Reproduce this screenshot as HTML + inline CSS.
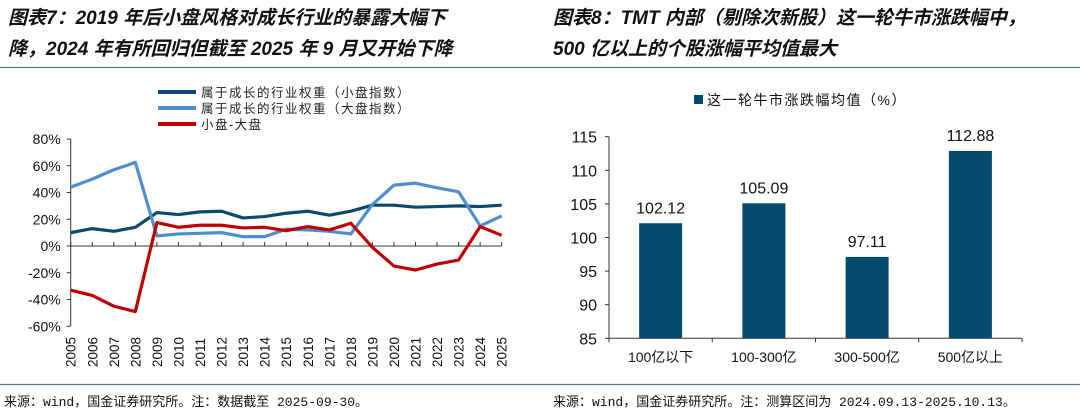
<!DOCTYPE html>
<html><head><meta charset="utf-8"><style>
body{margin:0;background:#fff;}
svg{display:block;font-family:"Liberation Sans","Noto Sans CJK SC",sans-serif;}
.t{font-family:"Liberation Sans","Noto Sans CJK SC",sans-serif;font-weight:bold;font-style:italic;font-size:19px;fill:#111;}
.f{font-family:"Liberation Mono","Noto Sans CJK SC",monospace;font-size:13px;fill:#111;}
</style></head><body>
<svg id="s" width="1080" height="415" viewBox="0 0 1080 415">
<text class="t" x="8" y="24">图表7：2019 年后小盘风格对成长行业的暴露大幅下</text>
<text class="t" x="8" y="55">降，2024 年有所回归但截至 2025 年 9 月又开始下降</text>
<text class="t" x="553" y="24">图表8：TMT 内部（剔除次新股）这一轮牛市涨跌幅中，</text>
<text class="t" x="553" y="55">500 亿以上的个股涨幅平均值最大</text>
<line x1="0" y1="67.5" x2="1080" y2="67.5" stroke="#5f7480" stroke-width="1.2"/>
<line x1="0" y1="384.5" x2="1080" y2="384.5" stroke="#5f7480" stroke-width="1.2"/>
<text class="f" x="4" y="406">来源：wind，国金证券研究所。注：数据截至 2025-09-30。</text>
<text class="f" x="553" y="406">来源：wind，国金证券研究所。注：测算区间为 2024.09.13-2025.10.13。</text>
<g id="left"></g>
<g id="right"></g>
</svg>
<script>
const years=['2005','2006','2007','2008','2009','2010','2011','2012','2013','2014','2015','2016','2017','2018','2019','2020','2021','2022','2023','2024','2025'];
const smallCapGrowth=[10,13,11,14,25,23.5,25.5,26,21,22,24.5,26,23,26,30.5,30.5,29,29.5,30,29.5,30.5];
const largeCapGrowth=[44,50,57,62.5,7.5,9,9.5,10,7,7,12.5,12,11,9,31,45.5,47,43.5,40.5,15,22.5];
const smallMinusLarge=[-33,-37,-45,-49,17.5,14,15.5,15.5,13.5,14,11.5,14.5,12,17,-1,-15,-18,-13.5,-10.5,14.5,8];
const yTicks=[80,60,40,20,0,-20,-40,-60];
const barCats=['100亿以下','100-300亿','300-500亿','500亿以上'];
const barVals=[102.12,105.09,97.11,112.88];
const barLabels=['102.12','105.09','97.11','112.88'];
const barTicks=[115,110,105,100,95,90,85];

const NS='http://www.w3.org/2000/svg';
function mk(p,tag,a,txt){const e=document.createElementNS(NS,tag);for(const k in a)e.setAttribute(k,a[k]);if(txt!==undefined)e.textContent=txt;p.appendChild(e);return e;}
// left chart
const L=document.getElementById('left');
const x0=70.7,x1=501.7;
const lx=i=>x0+i*(x1-x0)/(years.length-1);
const ly=v=>246-v*1.3375;
let e=mk(L,'line',{x1:x0,y1:ly(80),x2:x0,y2:ly(-60),stroke:'#333','stroke-width':1});


e=mk(L,'line',{x1:x0,y1:ly(0),x2:x1,y2:ly(0),stroke:'#333','stroke-width':1});


yTicks.forEach(v=>{
 mk(L,'line',{x1:x0-4,y1:ly(v),x2:x0,y2:ly(v),stroke:'#333'});
 e=mk(L,'text',{x:x0-10,y:ly(v)+5,'text-anchor':'end','font-size':'14',fill:'#111'},v+'%');
 
 
});
years.forEach((y,i)=>{
 mk(L,'line',{x1:lx(i),y1:ly(0),x2:lx(i),y2:ly(0)-4,stroke:'#333'});
 e=mk(L,'text',{x:0,y:0,'font-size':'13.5',fill:'#111',transform:`translate(${lx(i)+5},${367}) rotate(-90)`},y);
 
 
});
const series=[[smallCapGrowth,'#0b4a6e','small-cap-growth-line','属于成长的行业权重（小盘指数）'],[largeCapGrowth,'#4e8ed0','large-cap-growth-line','属于成长的行业权重（大盘指数）'],[smallMinusLarge,'#c00000','small-minus-large-line','小盘-大盘']];
series.forEach((s,k)=>{
 e=mk(L,'polyline',{points:s[0].map((v,i)=>lx(i)+','+ly(v)).join(' '),fill:'none',stroke:s[1],'stroke-width':3.2,'stroke-linejoin':'round'});
 
 
 const yy=92+k*16;
 mk(L,'line',{x1:158,y1:yy,x2:196,y2:yy,stroke:s[1],'stroke-width':4});
 e=mk(L,'text',{x:201,y:yy+5,'font-size':'12.5',fill:'#222','letter-spacing':'1.5'},s[3]);
 
 
});
// right chart
const R=document.getElementById('right');
const bx0=609,bx1=1022;
const by=v=>338.3-(v-85)*(201.6/30);
const cw=(bx1-bx0)/barCats.length;
e=mk(R,'line',{x1:bx0,y1:by(115),x2:bx0,y2:by(85),stroke:'#333'});


e=mk(R,'line',{x1:bx0,y1:by(85),x2:bx1,y2:by(85),stroke:'#333'});


barTicks.forEach(v=>{
 mk(R,'line',{x1:bx0-4,y1:by(v),x2:bx0,y2:by(v),stroke:'#333'});
 e=mk(R,'text',{x:bx0-12,y:by(v)+6,'text-anchor':'end','font-size':'16',fill:'#111'},String(v));
 
 
});
for(let i=0;i<=barCats.length;i++) mk(R,'line',{x1:bx0+i*cw,y1:by(85),x2:bx0+i*cw,y2:by(85)+4,stroke:'#333'});
barCats.forEach((c,i)=>{
 const cx=bx0+(i+0.5)*cw;
 e=mk(R,'rect',{x:cx-21.5,y:by(barVals[i]),width:43,height:by(85)-by(barVals[i]),fill:'#034a6e'});
 
 
 e=mk(R,'text',{x:cx,y:by(barVals[i])-10,'text-anchor':'middle','font-size':'16',fill:'#111'},barLabels[i]);
 
 
 e=mk(R,'text',{x:cx,y:362,'text-anchor':'middle','font-size':'14',fill:'#111'},c);
 
 
});
mk(R,'rect',{x:694,y:95,width:9,height:9,fill:'#034a6e'});
e=mk(R,'text',{x:707,y:105,'font-size':'14',fill:'#111','letter-spacing':'1.5'},'这一轮牛市涨跌幅均值（%）');


</script>
</body></html>
